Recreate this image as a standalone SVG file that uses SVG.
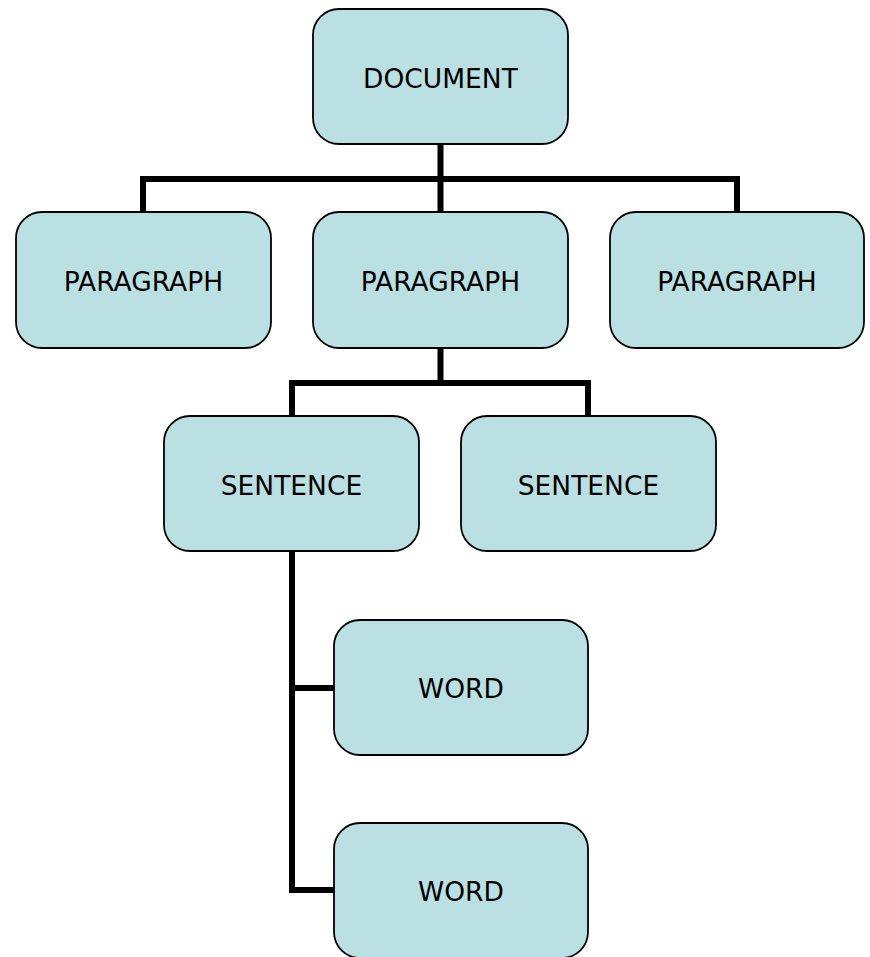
<svg xmlns="http://www.w3.org/2000/svg" width="870" height="957" viewBox="0 0 870 957">
<style>
.box{fill:#bbe0e3;stroke:#000;stroke-width:1.8}
.lbl{font-family:"DejaVu Sans",Verdana,sans-serif;font-size:26.5px;fill:#000;text-anchor:middle}
.conn{fill:none;stroke:#000;stroke-width:6;stroke-linejoin:miter;stroke-linecap:butt}
</style>
<rect width="870" height="957" fill="#fff"/>
<g id="connectors">
<path class="conn" d="M440.5 144 V212"/>
<path class="conn" d="M143 212 V179 H737 V212"/>
<path class="conn" d="M440.5 348 V383"/>
<path class="conn" d="M292 416 V383 H588 V416"/>
<path class="conn" d="M292 551 V890 H334"/>
<path class="conn" d="M292 688 H334"/>
</g>
<g id="document"><rect class="box" x="313" y="9" width="255" height="135" rx="26"/><text class="lbl" x="440.5" y="87.5">DOCUMENT</text></g>
<g id="paragraph1"><rect class="box" x="16" y="212" width="255" height="136" rx="26"/><text class="lbl" x="143.5" y="291">PARAGRAPH</text></g>
<g id="paragraph2"><rect class="box" x="313" y="212" width="255" height="136" rx="26"/><text class="lbl" x="440.5" y="291">PARAGRAPH</text></g>
<g id="paragraph3"><rect class="box" x="610" y="212" width="254" height="136" rx="26"/><text class="lbl" x="737" y="291">PARAGRAPH</text></g>
<g id="sentence1"><rect class="box" x="164" y="416" width="255" height="135" rx="26"/><text class="lbl" x="291.5" y="494.5">SENTENCE</text></g>
<g id="sentence2"><rect class="box" x="461" y="416" width="255" height="135" rx="26"/><text class="lbl" x="588.5" y="494.5">SENTENCE</text></g>
<g id="word1"><rect class="box" x="334" y="620" width="254" height="135" rx="26"/><text class="lbl" x="461" y="698">WORD</text></g>
<g id="word2"><rect class="box" x="334" y="823" width="254" height="135" rx="26"/><text class="lbl" x="461" y="901">WORD</text></g>
</svg>
